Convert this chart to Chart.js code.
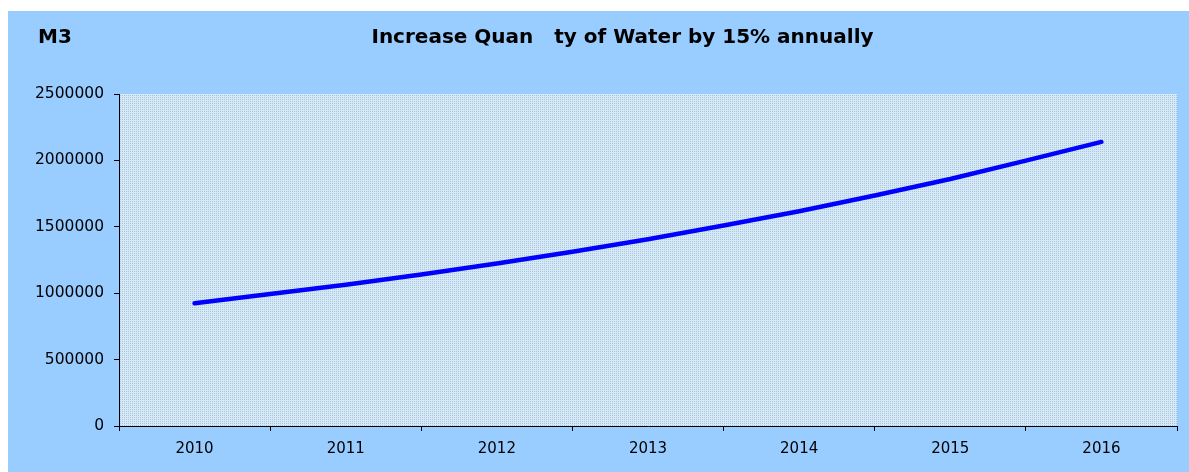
<!DOCTYPE html>
<html>
<head>
<meta charset="utf-8">
<script src="https://cdn.jsdelivr.net/npm/chart.js@4"></script>
<style>
  html, body { margin: 0; padding: 0; background: #ffffff; }
  #wrap { position: absolute; left: 8px; top: 11px; width: 1181px; height: 461px; }
</style>
</head>
<body>
<div id="wrap"><canvas id="c" width="1181" height="461"></canvas></div>
<script>
const categories = ['2010', '2011', '2012', '2013', '2014', '2015', '2016'];
const waterValues = [925000, 1063000, 1223000, 1406000, 1617000, 1860000, 2139000];
const yTickValues = [0, 500000, 1000000, 1500000, 2000000, 2500000];
const titleText = 'Increase Quan   ty of Water by 15% annually';
const unitText = 'M3';

function makePattern(ctx) {
  const p = document.createElement('canvas');
  p.width = 2; p.height = 2;
  const g = p.getContext('2d');
  g.fillStyle = '#d6e9f6';
  g.fillRect(0, 0, 2, 2);
  g.fillStyle = '#aac6dc';
  g.fillRect(0, 0, 1, 1);
  return ctx.createPattern(p, 'repeat');
}

const bgPlugin = {
  id: 'bgPlugin',
  beforeDraw(chart) {
    const ctx = chart.ctx;
    const a = chart.chartArea;
    ctx.save();
    ctx.fillStyle = '#99ccff';
    ctx.fillRect(0, 0, chart.width, chart.height);
    ctx.fillStyle = makePattern(ctx);
    ctx.fillRect(a.left, a.top, a.right - a.left, a.bottom - a.top);
    ctx.restore();
  },
  afterDraw(chart) {
    const ctx = chart.ctx;
    ctx.save();
    ctx.fillStyle = '#000000';
    ctx.font = 'bold 20px "DejaVu Sans"';
    ctx.textBaseline = 'alphabetic';
    ctx.textAlign = 'left';
    ctx.fillText(unitText, 30, 32);
    ctx.textAlign = 'center';
    ctx.fillText(titleText, 614.5, 32);
    ctx.restore();
  }
};

new Chart(document.getElementById('c'), {
  type: 'line',
  data: {
    labels: categories,
    datasets: [{
      data: waterValues,
      borderColor: '#0000ff',
      borderWidth: 4.5,
      borderCapStyle: 'round',
      pointRadius: 0,
      tension: 0.2,
      fill: false
    }]
  },
  options: {
    responsive: false,
    animation: false,
    devicePixelRatio: 1,
    layout: { padding: { left: 0, right: 12, top: 83, bottom: 0 } },
    plugins: {
      legend: { display: false },
      title: { display: false },
      tooltip: { enabled: false }
    },
    scales: {
      x: {
        offset: true,
        grid: { offset: true, drawOnChartArea: false, drawTicks: true, tickLength: 5, color: '#000000', lineWidth: 1 },
        border: { display: true, color: '#000000', width: 1 },
        ticks: { color: '#000000', font: { family: 'DejaVu Sans', size: 15 }, padding: 9, maxRotation: 0 },
        afterFit(s) { s.height = 46; }
      },
      y: {
        min: 0,
        max: 2500000,
        grid: { drawOnChartArea: false, drawTicks: true, tickLength: 5, color: '#000000', lineWidth: 1 },
        border: { display: true, color: '#000000', width: 1 },
        afterBuildTicks(s) { s.ticks = yTickValues.map(v => ({ value: v })); },
        ticks: {
          color: '#000000',
          font: { family: 'DejaVu Sans', size: 15.5 },
          padding: 10,
          callback: v => String(v)
        },
        afterFit(s) { s.width = 111; }
      }
    }
  },
  plugins: [bgPlugin]
});
</script>
</body>
</html>
